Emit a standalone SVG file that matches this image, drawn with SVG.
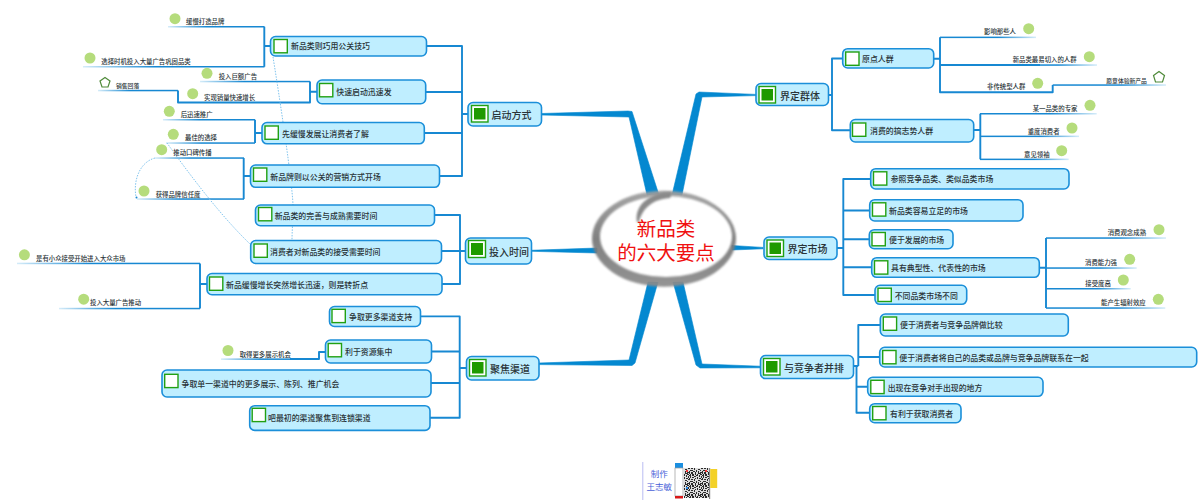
<svg xmlns="http://www.w3.org/2000/svg" width="1200" height="503" viewBox="0 0 1200 503">
<style>
text{font-family:"Noto Sans CJK SC","Noto Sans",sans-serif;dominant-baseline:central;fill:#2a3438;font-weight:500}
.n{fill:#bfeeff;stroke:#1b8fd9;stroke-width:1.6}
.c{fill:#fff;stroke:#22a012;stroke-width:1.4}
.g{fill:#1f9a00}
.t{font-size:7.9px}
.m{font-size:10px}
.l{font-size:6.4px}
.d{fill:#b5dc7c}
.p{fill:#fff;stroke:#4f8a3a;stroke-width:1.2}
.w{fill:none;stroke:#1788d2;stroke-width:1.9;stroke-linejoin:round}
.th{fill:#0488d0;stroke:#0488d0;stroke-width:.6;stroke-linejoin:round}
.dot{fill:none;stroke:#7fc4ee;stroke-width:1;stroke-dasharray:1.5 1.3}
.fl{fill:url(#fl)}
.fr{fill:url(#fr)}
.r{font-family:"Liberation Serif","Noto Sans CJK SC",serif;font-size:19.5px;fill:#f01010;font-weight:400}
</style>
<defs>
<linearGradient id="fl"><stop offset="0" stop-color="#d5ecf9"/><stop offset=".4" stop-color="#1788d2"/></linearGradient>
<linearGradient id="fr"><stop offset=".6" stop-color="#1788d2"/><stop offset="1" stop-color="#d5ecf9"/></linearGradient>
<linearGradient id="ring" x1="0" y1="0" x2="0" y2="1"><stop offset="0" stop-color="#a0a0a0"/><stop offset=".5" stop-color="#777"/><stop offset="1" stop-color="#8c8c8c"/></linearGradient>
<filter id="soft" x="-5%" y="-5%" width="110%" height="110%"><feGaussianBlur stdDeviation=".8"/></filter>
<pattern id="qr" width="13" height="11" patternUnits="userSpaceOnUse"><rect width="13" height="11" fill="#ddd"/><path d="M0 0h1v1H0zM2 0h2v1H2zM6 0h1v2H6zM9 0h3v1H9zM1 1h1v1H1zM3 1h2v2H3zM8 1h1v1H8zM11 1h2v1H11zM0 2h2v1H0zM7 2h2v1H7zM10 2h1v2H10zM1 3h1v2H1zM5 3h2v1H5zM12 3h1v2H12zM3 4h2v1H3zM8 4h1v2H8zM0 5h1v2H0zM6 5h1v1H6zM10 5h2v1H10zM2 6h2v1H2zM5 6h1v2H5zM9 7h2v1H9zM12 6h1v1H12zM1 8h3v1H1zM7 8h1v2H7zM11 8h1v1H11zM0 9h1v2H0zM4 9h2v1H4zM9 9h1v2H9zM2 10h2v1H2zM6 10h1v1H6zM11 10h2v1H11z" fill="#2b2b2b"/></pattern>
</defs>

<g id="connectors">
<polygon class="th" points="541,113.5 628,111 632,111.5 659,195 647,195 629,117 541,115"/>
<polygon class="th" points="672,195 682,195 702,97 756,95.6 756,94.4 699,92 696,94"/>
<polygon class="th" points="531,250.3 597,248 597,253 531,251.3"/>
<polygon class="th" points="732,245.5 763,247.4 763,248.8 732,250"/>
<polygon class="th" points="658,282 648,282 629,360 539,363 539,364.6 632,365.5 635,363"/>
<polygon class="th" points="673,282 683,282 702,364 760,366.2 760,367.8 700,368 696,365"/>
<path class="w" d="M468 114H462M426 46H462V176H439M425 92H462M424 133H462"/>
<path class="w" d="M270 46H264.3M264.3 26.7V66.7"/>
<path class="w" d="M317 91.7H310M310 81.5V102.5H178V90.5"/>
<path class="w" d="M262 133H255M255 119.7V143"/>
<path class="w" d="M250 176H243.7M243.7 158V199"/>
<path class="w" d="M465 251H460M435 215H460V284H442M441 251H460"/>
<path class="w" d="M207 284H200M200 263.4V308.5"/>
<path class="w" d="M466 368H459.7M421 316.4H459.7V417.7H430M431 351.5H459.7M431 383H459.7"/>
<path class="w" d="M325 352H319V359H290"/>
<path class="w" d="M828 95H832M842.7 58.5H832V130.3H850"/>
<path class="w" d="M933.7 58.7H940M940 37.3V92.3H1052.7V85"/>
<path class="w" d="M940 65H1040"/>
<path class="w" d="M973.7 130H980.3M980.3 113.7V159.3"/>
<path class="w" d="M837 248H843.3M870.7 179H843.3V295H875M869.7 210.5H843.3M869.3 239.3H843.3M871.7 267.3H843.3"/>
<path class="w" d="M1039 267.7H1046M1046 238V308"/>
<path class="w" d="M853.7 366H858.3M880.3 325H858.3V366M879.7 357H858.3M856.5 366V412.7H869.7M856.5 386.7H867.7"/>
<rect class="fl" x="168" y="26" width="96.5" height="1.5"/>
<rect class="fl" x="83" y="66" width="181.5" height="1.5"/>
<rect class="fl" x="200" y="80.8" width="110" height="1.5"/>
<rect class="fl" x="98" y="89.8" width="80" height="1.5"/>
<rect class="fl" x="163" y="119" width="92" height="1.5"/>
<rect class="fl" x="166" y="142.3" width="89" height="1.5"/>
<rect class="fl" x="155" y="157.3" width="89" height="1.5"/>
<rect class="fl" x="137" y="198.3" width="107" height="1.5"/>
<rect class="fl" x="17" y="262.7" width="183" height="1.5"/>
<rect class="fl" x="59" y="307.8" width="141" height="1.5"/>
<rect class="fl" x="221" y="358.4" width="97" height="1.5"/>
<rect class="fr" x="940" y="36.6" width="96" height="1.5"/>
<rect class="fr" x="1000" y="64.3" width="97" height="1.5"/>
<rect class="fr" x="1052.7" y="84.3" width="113.3" height="1.5"/>
<rect class="fr" x="980" y="113" width="116.7" height="1.5"/>
<rect class="fr" x="980" y="135.6" width="99" height="1.5"/>
<rect class="fr" x="980" y="158.6" width="88.7" height="1.5"/>
<rect class="fr" x="1046" y="237.3" width="120" height="1.5"/>
<rect class="fr" x="1046" y="267.3" width="90.7" height="1.5"/>
<rect class="fr" x="1046" y="288" width="84.7" height="1.5"/>
<rect class="fr" x="1046" y="307.3" width="119.3" height="1.5"/>
<path class="dot" d="M273 57C280 100 292 180 293 205C293 220 292 232 292 240"/>
<path class="dot" d="M167 143C190 175 220 215 250 244"/>
<path class="dot" d="M155 158C140 162 133 180 136 197"/>
<circle cx="136.5" cy="197.5" r="1" fill="#1788d2"/>
</g>

<g id="root">
<ellipse cx="664" cy="238" rx="68" ry="44" fill="#fff"/>
<path filter="url(#soft)" fill="url(#ring)" fill-rule="evenodd" opacity=".93" d="M592 238.7a72 48 0 1 0 144 0a72 48 0 1 0-144 0zM600 236.5a66 40.5 0 1 1 132 0a66 40.5 0 1 1-132 0z"/>
<path filter="url(#soft)" fill="#8a8a8a" d="M637 222C634 205 650 192 672 192L670 198C655 199 643 206 639 222z"/>
<text class="r" x="666" y="229" text-anchor="middle">新品类</text>
<text class="r" x="666" y="253" text-anchor="middle">的六大要点</text>
</g>

<g id="m-qidong"><rect class="n" x="468" y="102.5" width="73.5" height="23.5" rx="5"/><rect class="c" x="471.5" y="105.5" width="16.5" height="16.5"/><rect class="g" x="474" y="108" width="11.5" height="11.5"/><text class="m" x="491.5" y="114">启动方式</text></g>
<g id="m-touru"><rect class="n" x="465.5" y="238" width="66" height="26" rx="5"/><rect class="c" x="468.5" y="240.5" width="17" height="17"/><rect class="g" x="471" y="243" width="12" height="12"/><text class="m" x="489" y="251">投入时间</text></g>
<g id="m-jujiao"><rect class="n" x="466.5" y="356.5" width="72.5" height="23.5" rx="5"/><rect class="c" x="469.5" y="359.5" width="16.5" height="16.5"/><rect class="g" x="472" y="362" width="11.5" height="11.5"/><text class="m" x="490" y="368">聚焦渠道</text></g>
<g id="m-qunti"><rect class="n" x="756" y="83.5" width="72.5" height="22" rx="5"/><rect class="c" x="759" y="86.5" width="16.5" height="16.5"/><rect class="g" x="761.5" y="89" width="11.5" height="11.5"/><text class="m" x="780" y="95">界定群体</text></g>
<g id="m-shichang"><rect class="n" x="764" y="237" width="73" height="22.5" rx="5"/><rect class="c" x="767" y="240" width="16.5" height="16.5"/><rect class="g" x="769.5" y="242.5" width="11.5" height="11.5"/><text class="m" x="787.5" y="248">界定市场</text></g>
<g id="m-bingpai"><rect class="n" x="760.5" y="355.5" width="93" height="23" rx="5"/><rect class="c" x="763.5" y="358.5" width="16.5" height="16.5"/><rect class="g" x="766" y="361" width="11.5" height="11.5"/><text class="m" x="784" y="367">与竞争者并排</text></g>

<g id="n1"><rect class="n" x="270.5" y="36.5" width="156" height="19.5" rx="5"/><rect class="c" x="274" y="39.5" width="13.3" height="13.3"/><text class="t" x="291" y="45.7">新品类则巧用公关技巧</text></g>
<g id="n2"><rect class="n" x="317" y="80" width="108.7" height="23.7" rx="5"/><rect class="c" x="319.5" y="83.5" width="13.3" height="13.3"/><text class="t" x="336.3" y="91.7">快速启动迅速发</text></g>
<g id="n3"><rect class="n" x="262" y="122.5" width="162.3" height="21.3" rx="5"/><rect class="c" x="265" y="126" width="13.3" height="13.3"/><text class="t" x="282" y="133">先缓慢发展让消费者了解</text></g>
<g id="n4"><rect class="n" x="250.5" y="165" width="189" height="22.3" rx="5"/><rect class="c" x="253.5" y="168" width="13.3" height="13.3"/><text class="t" x="270.3" y="176">新品牌则以公关的营销方式开场</text></g>
<g id="n5"><rect class="n" x="255.5" y="205" width="179" height="20.7" rx="5"/><rect class="c" x="258.5" y="207.5" width="13.3" height="13.3"/><text class="t" x="274.7" y="215">新品类的完善与成熟需要时间</text></g>
<g id="n6"><rect class="n" x="250.7" y="240.5" width="190.8" height="23" rx="5"/><rect class="c" x="254" y="244" width="13.3" height="13.3"/><text class="t" x="270" y="251">消费者对新品类的接受需要时间</text></g>
<g id="n7"><rect class="n" x="207" y="273.5" width="235" height="21.2" rx="5"/><rect class="c" x="209.5" y="277" width="13.3" height="13.3"/><text class="t" x="226" y="284">新品缓慢增长突然增长迅速，则是转折点</text></g>
<g id="n8"><rect class="n" x="329.5" y="306.5" width="91" height="20" rx="5"/><rect class="c" x="332" y="309.3" width="13.3" height="13.3"/><text class="t" x="349" y="316.4">争取更多渠道支持</text></g>
<g id="n9"><rect class="n" x="325.5" y="340" width="106" height="23" rx="5"/><rect class="c" x="328.2" y="343.5" width="13.3" height="13.3"/><text class="t" x="345" y="351">利于资源集中</text></g>
<g id="n10"><rect class="n" x="162" y="370" width="269" height="27" rx="5"/><rect class="c" x="164.7" y="374.3" width="13.3" height="13.3"/><text class="t" x="181.5" y="383">争取单一渠道中的更多展示、陈列、推广机会</text></g>
<g id="n11"><rect class="n" x="249.7" y="405.7" width="180.3" height="24.7" rx="5"/><rect class="c" x="252.2" y="408.3" width="13.3" height="13.3"/><text class="t" x="268" y="417.7">吧最初的渠道聚焦到连锁渠道</text></g>
<g id="n12"><rect class="n" x="842.7" y="48.7" width="91" height="19.3" rx="5"/><rect class="c" x="845.7" y="52" width="13.3" height="13.3"/><text class="t" x="862" y="58.3">原点人群</text></g>
<g id="n13"><rect class="n" x="850.3" y="119.5" width="123.4" height="22.5" rx="5"/><rect class="c" x="852.5" y="123" width="13.3" height="13.3"/><text class="t" x="870" y="130.3">消费的搞志势人群</text></g>
<g id="n14"><rect class="n" x="870.7" y="168.7" width="198.3" height="20.3" rx="5"/><rect class="c" x="873.5" y="171.8" width="13.3" height="13.3"/><text class="t" x="890.7" y="178.7">参照竞争品类、类似品类市场</text></g>
<g id="n15"><rect class="n" x="869.7" y="199.7" width="153.3" height="21.3" rx="5"/><rect class="c" x="872.5" y="202.8" width="13.3" height="13.3"/><text class="t" x="889" y="210.3">新品类容易立足的市场</text></g>
<g id="n16"><rect class="n" x="869.3" y="229.7" width="83.7" height="19" rx="5"/><rect class="c" x="872" y="232.5" width="13.3" height="13.3"/><text class="t" x="889" y="239.3">便于发展的市场</text></g>
<g id="n17"><rect class="n" x="871.7" y="257.7" width="167.6" height="19.6" rx="5"/><rect class="c" x="874.5" y="260.8" width="13.3" height="13.3"/><text class="t" x="891" y="267.3">具有典型性、代表性的市场</text></g>
<g id="n18"><rect class="n" x="875" y="285.3" width="91.7" height="19" rx="5"/><rect class="c" x="878" y="288.2" width="13.3" height="13.3"/><text class="t" x="894.7" y="295">不同品类市场不同</text></g>
<g id="n19"><rect class="n" x="880.3" y="314" width="188" height="22" rx="5"/><rect class="c" x="883.3" y="317" width="13.3" height="13.3"/><text class="t" x="900" y="324.3">便于消费者与竞争品牌做比较</text></g>
<g id="n20"><rect class="n" x="879.7" y="347.3" width="317" height="19.7" rx="5"/><rect class="c" x="882.7" y="350.5" width="13.3" height="13.3"/><text class="t" x="899.3" y="357">便于消费者将自己的品类或品牌与竞争品牌联系在一起</text></g>
<g id="n21"><rect class="n" x="867.7" y="377.3" width="175.3" height="19" rx="5"/><rect class="c" x="870.8" y="380.3" width="13.3" height="13.3"/><text class="t" x="887.7" y="387">出现在竞争对手出现的地方</text></g>
<g id="n22"><rect class="n" x="869.7" y="403.7" width="91.3" height="19" rx="5"/><rect class="c" x="872.7" y="406.5" width="13.3" height="13.3"/><text class="t" x="890" y="413.3">有利于获取消费者</text></g>

<g id="l1"><circle class="d" cx="175" cy="18.7" r="5.5"/><text class="l" x="186" y="21.7">缓慢打造品牌</text></g>
<g id="l2"><circle class="d" cx="90" cy="58" r="5.5"/><text class="l" x="101.3" y="61.3">选择时机投入大量广告巩固品类</text></g>
<g id="l3"><circle class="d" cx="207" cy="73.3" r="5.5"/><text class="l" x="218.7" y="76.3">投入巨额广告</text></g>
<g id="l4"><polygon class="p" points="105,77.5 110,81 108,87 102,87 100,81"/><text class="l" x="116" y="85.7" style="font-size:5.8px">销售回落</text></g>
<g id="l5"><circle class="d" cx="192.7" cy="93.7" r="5.5"/><text class="l" x="204" y="97">实现销量快速增长</text></g>
<g id="l6"><circle class="d" cx="169.3" cy="111.3" r="5.5"/><text class="l" x="180.7" y="114.7">后迅速推广</text></g>
<g id="l7"><circle class="d" cx="173.3" cy="134.3" r="5.5"/><text class="l" x="185" y="137.7">最佳的选择</text></g>
<g id="l8"><circle class="d" cx="161.7" cy="149.7" r="5.5"/><text class="l" x="173.3" y="152.7">推动口碑传播</text></g>
<g id="l9"><circle class="d" cx="144" cy="191" r="5.5"/><text class="l" x="155.7" y="194.3">获得品牌信任度</text></g>
<g id="l10"><circle class="d" cx="24.4" cy="254.8" r="5.5"/><text class="l" x="36" y="258.2">是有小众接受开始进入大众市场</text></g>
<g id="l11"><circle class="d" cx="83.7" cy="299.2" r="5.5"/><text class="l" x="90" y="302.7">投入大量广告推动</text></g>
<g id="l12"><circle class="d" cx="228" cy="350.5" r="5.5"/><text class="l" x="239.7" y="354">取得更多展示机会</text></g>
<g id="l13"><text class="l" x="984" y="31.7">影响那些人</text><circle class="d" cx="1028.7" cy="28.7" r="5.5"/></g>
<g id="l14"><text class="l" x="1012.7" y="59.7">新品类最易切入的人群</text><circle class="d" cx="1089.3" cy="56.7" r="5.5"/></g>
<g id="l15"><text class="l" x="987" y="86.3">非传统型人群</text><circle class="d" cx="1037.7" cy="83.3" r="5.5"/></g>
<g id="l16"><text class="l" x="1106.3" y="80.3" style="font-size:5.8px">愿意体验新产品</text><polygon class="p" points="1159,71.5 1164.5,75.5 1162.5,82 1155.5,82 1153.5,75.5"/></g>
<g id="l17"><text class="l" x="1032.7" y="108.3">某一品类的专家</text><circle class="d" cx="1090" cy="105.3" r="5.5"/></g>
<g id="l18"><text class="l" x="1027.7" y="131.3">重度消费者</text><circle class="d" cx="1072" cy="128" r="5.5"/></g>
<g id="l19"><text class="l" x="1024" y="154">意见领袖</text><circle class="d" cx="1061.7" cy="150.7" r="5.5"/></g>
<g id="l20"><text class="l" x="1107.7" y="232.7">消费观念成熟</text><circle class="d" cx="1159" cy="229.7" r="5.5"/></g>
<g id="l21"><text class="l" x="1085" y="262.7">消费能力强</text><circle class="d" cx="1129.7" cy="259.3" r="5.5"/></g>
<g id="l22"><text class="l" x="1085.3" y="283.3">接受度高</text><circle class="d" cx="1123.3" cy="280" r="5.5"/></g>
<g id="l23"><text class="l" x="1101" y="302.7">能产生辐射效应</text><circle class="d" cx="1158.3" cy="299.3" r="5.5"/></g>

<g id="credit">
<rect x="642.3" y="462" width="1" height="38" fill="#b9bdf2"/>
<text x="659.3" y="473.3" text-anchor="middle" style="font-size:8.5px;fill:#4a5fd8;font-weight:400">制作</text>
<text x="659.3" y="485.7" text-anchor="middle" style="font-size:8.5px;fill:#4a5fd8;font-weight:400">王志敏</text>
<rect x="675" y="463" width="8" height="5" fill="#1b8fe0"/>
<rect x="675" y="468" width="8" height="28" fill="#fff" stroke="#999" stroke-width=".7"/>
<rect x="675" y="496" width="8" height="2.5" fill="#d81818"/>
<rect x="684" y="468" width="25" height="30" fill="url(#qr)"/>
<rect x="709" y="468" width="1.2" height="31" fill="#888"/>
<rect x="710.2" y="469" width="7" height="19" fill="#f3d128"/>
<rect x="686" y="470" width="2" height="2" fill="#e33"/>
<rect x="705" y="470" width="2" height="2" fill="#e33"/>
<rect x="686" y="487" width="2" height="2" fill="#28e"/>
</g>
</svg>
